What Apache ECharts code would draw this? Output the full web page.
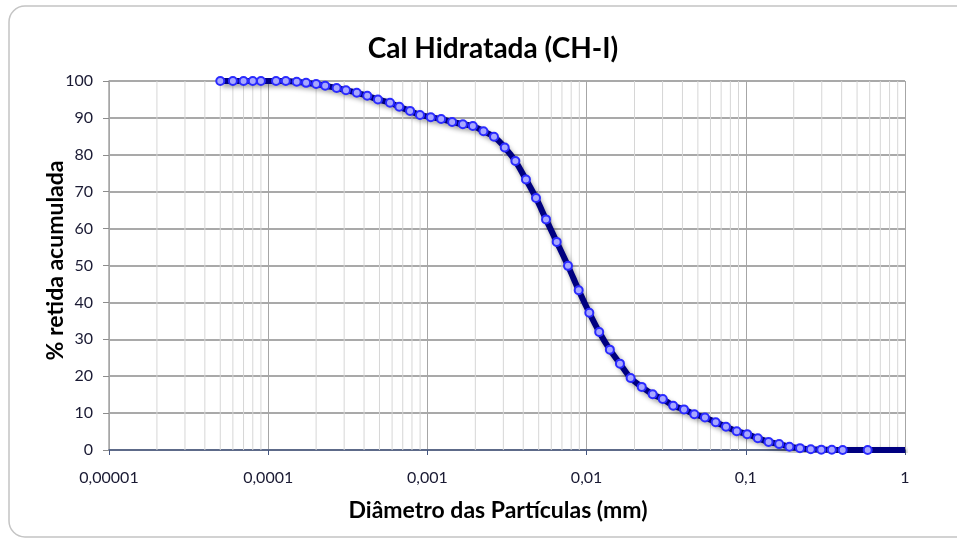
<!DOCTYPE html>
<html>
<head>
<meta charset="utf-8">
<script src="https://cdn.jsdelivr.net/npm/echarts@6/dist/echarts.min.js"></script>
<style>
  html, body { margin: 0; padding: 0; background: #fff; }
  #chart { width: 957px; height: 539px; }
</style>
</head>
<body>
<div id="chart"></div>
<script>
// particle diameter (mm) and cumulative retained (%)
var diameters = [0.00005, 0.00006, 0.00007, 0.00008, 0.00009, 0.000112, 0.000129, 0.000151, 0.000173, 0.0002,
  0.000228, 0.000269, 0.000308, 0.00036, 0.000419, 0.000489, 0.000582, 0.000666, 0.000778, 0.000898,
  0.00105, 0.00122, 0.00143, 0.00167, 0.00193, 0.00225, 0.00262, 0.00306, 0.00357, 0.00416,
  0.00481, 0.00556, 0.00649, 0.00764, 0.00892, 0.0104, 0.0120, 0.0140, 0.0162, 0.0189,
  0.0222, 0.0260, 0.0301, 0.0350, 0.0409, 0.0475, 0.0554, 0.0647, 0.0751, 0.0877,
  0.102, 0.119, 0.139, 0.162, 0.188, 0.219, 0.256, 0.298, 0.347, 0.406, 0.583, 1]
var retained = [100, 100, 100, 100, 100, 100, 100, 99.8, 99.5, 99.2,
  98.7, 98.1, 97.5, 96.8, 96.0, 95.0, 94.1, 93.0, 91.9, 90.8,
  90.2, 89.7, 88.9, 88.3, 87.8, 86.4, 84.9, 82.0, 78.3, 73.3,
  68.3, 62.5, 56.4, 49.9, 43.3, 37.2, 32.0, 27.2, 23.4, 19.5,
  17.1, 15.1, 13.8, 12.0, 11.0, 9.7, 8.8, 7.5, 6.3, 5.1,
  4.3, 3.2, 2.2, 1.6, 0.9, 0.5, 0.2, 0.1, 0.05, 0, 0, 0]
var xTickLabels = ['0,00001', '0,0001', '0,001', '0,01', '0,1', '1']
var decades = [0.00001, 0.0001, 0.001, 0.01, 0.1]

var font = 'Lato, "Open Sans", sans-serif'

// light minor gridlines at 2..9 of each decade
var minorTicks = []
decades.forEach(function(d) {
  for (var k = 2; k <= 9; k++) {
    minorTicks.push(+(d * k).toPrecision(3))
  }
})

var points = diameters.map(function(d, i) {
  var p = { value: [d, retained[i]] }
  if (i === diameters.length - 1) p.symbolSize = 0
  return p
})

var chart = echarts.init(document.getElementById('chart'))
chart.setOption({
  backgroundColor: '#fff',
  animation: false,
  graphic: [{
    type: 'rect',
    shape: { x: 9, y: 6, width: 980, height: 531, r: 16 },
    style: { fill: 'none', stroke: '#c4c4c4', lineWidth: 1.5 },
    z: -10
  }],
  title: {
    text: 'Cal Hidratada (CH-I)',
    left: 488,
    textAlign: 'center',
    top: 30,
    textStyle: { fontFamily: font, fontSize: 28, fontWeight: 'bold', color: '#000' }
  },
  grid: { left: 109, right: 52, top: 81, bottom: 89 },
  xAxis: {
    type: 'log',
    logBase: 10,
    min: 0.00001,
    max: 1,
    interval: 1,
    name: 'Diâmetro das Partículas (mm)',
    nameLocation: 'middle',
    nameGap: 49,
    nameMoveOverlap: false,
    nameTextStyle: { fontFamily: font, fontSize: 23, fontWeight: 'bold', color: '#000', padding: [0, 0, 0, -18] },
    axisLine: { show: true, lineStyle: { color: '#44557f', width: 1.5 } },
    axisTick: { show: true, length: 5, lineStyle: { color: '#44557f' } },
    axisLabel: {
      margin: 20,
      fontFamily: font, fontSize: 16, color: '#1a1a33',
      formatter: function(v) {
        var idx = Math.round(Math.log(v) / Math.LN10) + 5
        return xTickLabels[idx] || ''
      }
    },
    splitLine: { show: true, lineStyle: { color: '#a6a6a6', width: 1 } }
  },
  yAxis: {
    type: 'value',
    min: 0,
    max: 100,
    interval: 10,
    name: '% retida acumulada',
    nameLocation: 'middle',
    nameGap: 42,
    nameMoveOverlap: false,
    nameTextStyle: { fontFamily: font, fontSize: 23, fontWeight: 'bold', color: '#000', padding: [0, 0, 0, 10] },
    axisLine: { show: true, lineStyle: { color: '#a6a6a6', width: 1.5 } },
    axisTick: { show: true, length: 6, lineStyle: { color: '#8c8c8c' } },
    axisLabel: { margin: 16, fontFamily: font, fontSize: 16, color: '#1a1a33' },
    splitLine: { show: true, lineStyle: { color: '#8c8c8c', width: 1.5 } }
  },
  series: [{
    type: 'custom',
    silent: true,
    z: 1,
    data: minorTicks,
    encode: { x: 0 },
    renderItem: function(params, api) {
      var top = api.coord([api.value(0), 100])
      var bottom = api.coord([api.value(0), 0])
      return {
        type: 'line',
        shape: { x1: top[0], y1: top[1], x2: bottom[0], y2: bottom[1] },
        style: { stroke: '#d6d6d6', lineWidth: 1 }
      }
    }
  }, {
    name: 'Cal Hidratada (CH-I)',
    type: 'line',
    z: 3,
    smooth: 0.3,
    data: points,
    symbol: 'circle',
    symbolSize: 8,
    lineStyle: {
      color: '#000080', width: 6,
      shadowColor: 'rgba(0,0,0,0.4)', shadowBlur: 5, shadowOffsetX: 2, shadowOffsetY: 3
    },
    itemStyle: { color: '#a8a8ff', borderColor: '#2a2aff', borderWidth: 2 }
  }]
})
</script>
</body>
</html>
